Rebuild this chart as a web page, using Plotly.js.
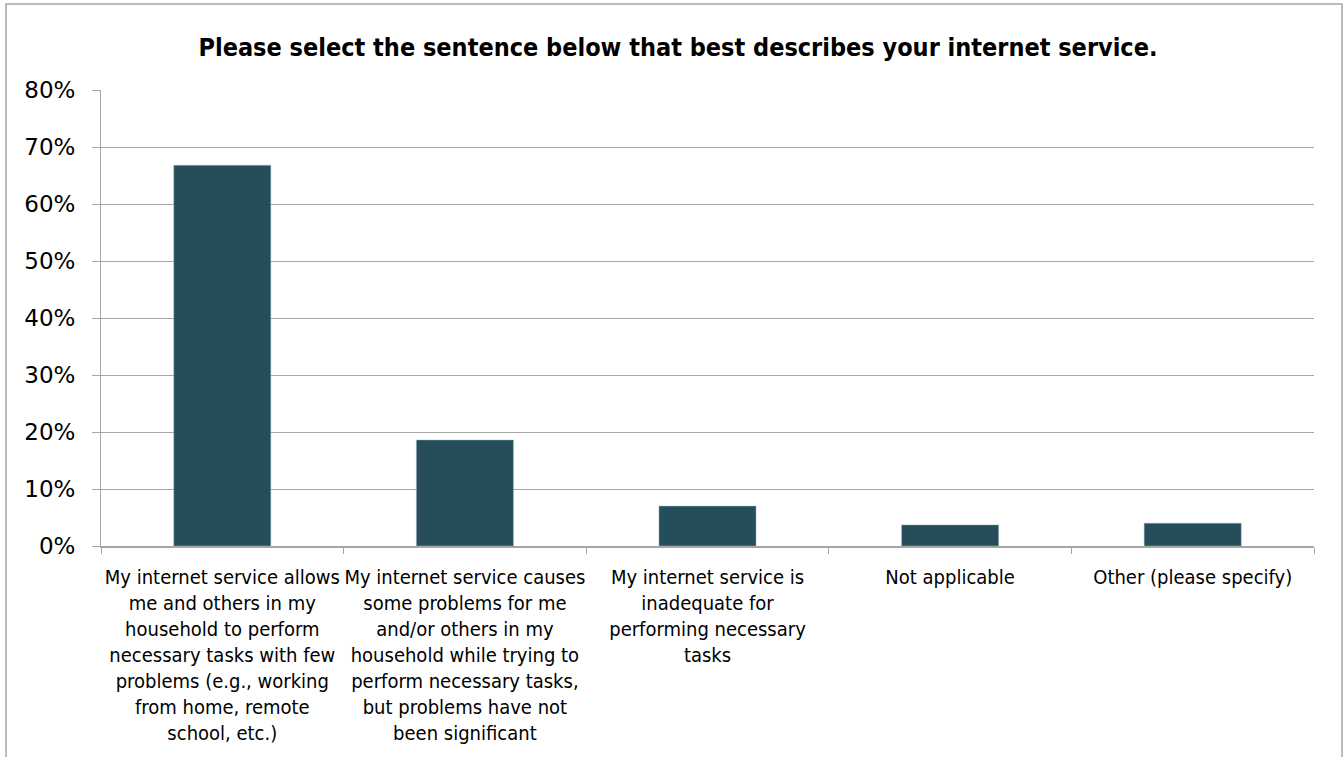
<!DOCTYPE html>
<html>
<head>
<meta charset="utf-8">
<script src="https://cdn.plot.ly/plotly-3.0.1.min.js"></script>
<style>html,body{margin:0;padding:0;background:#fff;}#chart{width:1344px;height:757px;}</style>
</head>
<body>
<div id="chart"></div>
<script>
const categories = [
  "My internet service allows<br>me and others in my<br>household to perform<br>necessary tasks with few<br>problems (e.g., working<br>from home, remote<br>school, etc.)",
  "My internet service causes<br>some problems for me<br>and/or others in my<br>household while trying to<br>perform necessary tasks,<br>but problems have not<br>been significant",
  "My internet service is<br>inadequate for<br>performing necessary<br>tasks",
  "Not applicable",
  "Other (please specify)"
];
const values = [0.668, 0.186, 0.070, 0.037, 0.040];
const yTickVals = [0, 0.1, 0.2, 0.3, 0.4, 0.5, 0.6, 0.7, 0.8];
const yTickText = ["0%", "10%", "20%", "30%", "40%", "50%", "60%", "70%", "80%"];
const titleText = "Please select the sentence below that best describes your internet service.";

const CFONT = "'DejaVu Sans Condensed', 'DejaVu Sans', sans-serif";
const RFONT = "'DejaVu Sans', sans-serif";
const GRID = "#a6a6a6";

const trace = {
  type: "bar",
  x: categories,
  y: values,
  marker: {color: "#254d5a", line: {color: "#9fb5bd", width: 0.5}},
  hoverinfo: "none"
};

const layout = {
  width: 1344, height: 757,
  margin: {l: 101, r: 30, t: 90, b: 211},
  paper_bgcolor: "#ffffff",
  plot_bgcolor: "#ffffff",
  bargap: 0.6,
  showlegend: false,
  title: {
    text: "<b>" + titleText + "</b>",
    font: {family: CFONT, size: 25, color: "#000"},
    x: 678/1344, xref: "container", xanchor: "center",
    y: 1 - 47/757, yref: "container", yanchor: "middle"
  },
  xaxis: {
    type: "category",
    showline: true, linecolor: GRID, linewidth: 1.5,
    ticks: "outside", tickson: "boundaries", ticklen: 6, tickcolor: GRID, tickwidth: 1,
    showgrid: false,
    tickfont: {family: CFONT, size: 20, color: "#000"},
    tickangle: 0,
    ticklabelstandoff: 12,
    automargin: false
  },
  yaxis: {
    range: [0, 0.8],
    tickvals: yTickVals, ticktext: yTickText,
    showline: true, linecolor: GRID, linewidth: 1,
    showgrid: true, gridcolor: GRID, gridwidth: 1,
    ticks: "outside", ticklen: 8, tickcolor: GRID,
    tickfont: {family: RFONT, size: 23, color: "#000"},
    ticklabelstandoff: 12,
    zeroline: false,
    automargin: false
  },
  shapes: [{
    type: "path", xref: "paper", yref: "paper",
    path: "M " + ((6-101)/1213) + " " + ((546-770)/456) +
          " L " + ((6-101)/1213) + " " + ((546-4)/456) +
          " L " + ((1342-101)/1213) + " " + ((546-4)/456) +
          " L " + ((1342-101)/1213) + " " + ((546-770)/456),
    line: {color: "#a6a6a6", width: 1.5}
  }]
};

Plotly.newPlot("chart", [trace], layout, {displayModeBar: false, staticPlot: true});
</script>
</body>
</html>
